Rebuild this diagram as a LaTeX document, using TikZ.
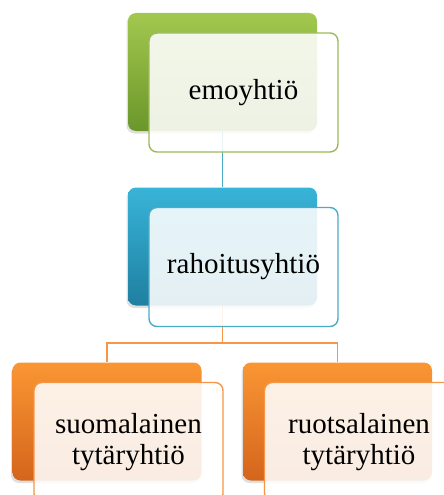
\documentclass[tikz,border=0pt]{standalone}
\usepackage{fontspec}
\setmainfont{Liberation Serif}
\usepackage{tikz}
\usetikzlibrary{shadows}
\pgfdeclarelayer{bg}
\pgfsetlayers{bg,main}
\definecolor{grtop}{HTML}{A2C84E}
\definecolor{grbot}{HTML}{6B962A}
\definecolor{grline}{HTML}{9BBB59}
\definecolor{bltop}{HTML}{38B4D8}
\definecolor{blbot}{HTML}{1F7FA1}
\definecolor{blline}{HTML}{4BACC6}
\definecolor{ortop}{HTML}{FA9634}
\definecolor{orbot}{HTML}{D4651C}
\definecolor{orline}{HTML}{F79646}
\tikzset{
    back/.style={rectangle, rounded corners=8pt, minimum width=189pt,
        minimum height=118pt, inner sep=0pt,
        drop shadow={shadow xshift=-1.5pt, shadow yshift=-2.5pt, opacity=.25}},
    front/.style={rectangle, rounded corners=8pt, minimum width=189pt,
        minimum height=119pt, inner sep=0pt, line width=1.4pt,
        fill=white, fill opacity=.88, text opacity=1, align=center,
        font=\fontsize{29}{31}\selectfont},
    link/.style={line width=1.3pt}
}

\begin{document}
\begin{tikzpicture}[x=1pt, y=-1pt]
    \useasboundingbox (0,0) rectangle (444,495);

    \node (emob) at (222.5, 72) [back, top color=grtop, bottom color=grbot] {};
    \node (rahb) at (222.5, 246.5) [back, top color=bltop, bottom color=blbot] {};
    \node (fib) at (107, 421.5) [back, top color=ortop, bottom color=orbot] {};
    \node (seb) at (337.5, 421.5) [back, top color=ortop, bottom color=orbot] {};

    \coordinate (split) at (222.5, 343);

    \begin{pgfonlayer}{bg}
        \draw[link, blline] (emob) -- (rahb);
        \draw[link, orline] (rahb.south) -- (split) -| (fib.north);
        \draw[link, orline] (split) -| (seb.north);
    \end{pgfonlayer}

    \node (emo) at (243.5, 92.5) [front, draw=grline] {emoyhtiö};
    \node (rah) at (243.5, 267) [front, draw=blline] {rahoitusyhtiö};
    \node (fi) at (128.5, 442) [front, draw=orline] {suomalainen\\tytäryhtiö};
    \node (se) at (359, 442) [front, draw=orline] {ruotsalainen\\tytäryhtiö};
\end{tikzpicture}
\end{document}
